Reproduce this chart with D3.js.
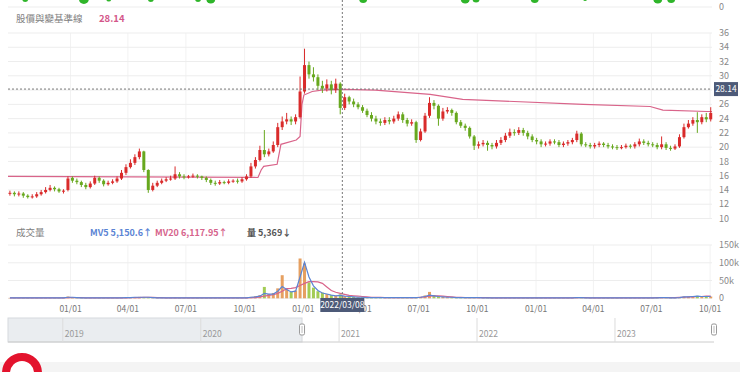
<!DOCTYPE html>
<html><head><meta charset="utf-8">
<script src="https://cdn.jsdelivr.net/npm/d3@7"></script>
<style>
html,body{margin:0;padding:0;background:#fff;}
svg{display:block;font-family:"Noto Sans CJK TC","Noto Sans",Arial,sans-serif;}
</style></head><body>
<svg id="c" width="740" height="372"></svg>
<script>
// ---------- DATA (weekly) ----------
const weeks = d3.timeMonday.range(new Date(2020, 8, 28), new Date(2023, 9, 3));
const priceClose = [13.6,13.4,13.5,13.2,13.0,13.1,13.4,13.7,14.0,14.3,
14.1,13.8,13.9,15.6,15.3,15.1,14.7,14.4,14.9,15.7,
15.3,14.8,15.0,15.2,15.6,16.4,17.2,17.8,18.6,19.4,
16.8,14.0,14.6,15.0,15.3,15.5,15.6,16.2,15.9,15.8,
15.9,16.0,15.9,15.7,15.4,15.0,14.9,15.1,15.0,15.2,
15.3,15.2,15.5,15.9,17.3,18.2,19.6,19.0,19.4,20.3,
22.8,23.6,23.9,23.6,24.2,27.8,31.5,30.2,29.8,28.6,
28.2,28.8,28.0,28.9,25.5,27.0,26.4,26.0,25.6,25.1,
24.5,24.0,23.6,23.4,23.8,23.6,24.0,24.6,23.8,23.3,
23.5,21.0,22.2,24.4,26.2,25.8,24.0,25.0,25.2,24.8,
23.5,23.0,22.7,21.5,20.2,20.4,20.6,20.3,20.1,20.6,
21.0,21.6,22.1,22.0,22.4,22.0,21.5,21.0,20.8,20.4,
20.5,20.8,20.7,20.3,20.5,20.7,21.0,21.9,20.4,20.3,
20.1,20.3,20.5,20.3,20.1,20.0,19.9,20.0,20.2,20.1,
20.4,20.8,20.6,20.4,20.3,20.0,20.4,19.9,19.8,20.1,
21.4,22.8,23.3,23.8,23.5,24.2,23.9,24.8];
const priceOpen = [13.5,13.6,13.4,13.5,13.2,13.0,13.1,13.4,13.7,14.0,
14.3,14.1,13.8,14.0,15.7,15.3,15.1,14.7,14.4,14.9,
15.7,15.3,14.8,15.0,15.2,15.6,16.4,17.2,17.8,18.6,
19.4,16.8,14.0,14.6,15.0,15.3,15.5,15.6,16.2,15.9,
15.8,15.9,16.0,15.9,15.7,15.4,15.0,14.9,15.1,15.0,
15.2,15.3,15.2,15.5,15.9,17.3,18.2,19.6,19.0,19.4,
20.3,22.8,23.6,23.9,23.6,24.2,27.8,31.5,30.2,29.8,
28.6,28.2,28.8,28.0,28.9,25.5,27.0,26.4,26.0,25.6,
25.1,24.5,24.0,23.6,23.4,23.8,23.6,24.0,24.6,23.8,
23.3,23.5,21.0,22.2,24.4,26.2,25.8,24.0,25.0,25.2,
24.8,23.5,23.0,22.7,21.5,20.2,20.4,20.6,20.3,20.1,
20.6,21.0,21.6,22.1,22.0,22.4,22.0,21.5,21.0,20.8,
20.4,20.5,20.8,20.7,20.3,20.5,20.7,21.0,21.9,20.4,
20.3,20.1,20.3,20.5,20.3,20.1,20.0,19.9,20.0,20.2,
20.1,20.4,20.8,20.6,20.4,20.3,20.0,20.4,19.9,19.8,
20.1,21.4,22.8,23.3,23.8,23.5,24.2,23.9];
const priceHigh = [13.9,13.8,13.8,13.7,13.4,13.4,13.7,14.0,14.4,14.7,
14.5,14.3,14.1,15.9,15.9,15.6,15.3,15.0,15.2,16.0,
15.9,15.5,15.3,15.5,15.9,16.8,17.6,18.3,19.0,19.8,
19.5,16.9,15.0,15.3,15.6,15.8,16.0,17.3,16.5,16.2,
16.1,16.3,16.2,16.0,15.9,15.6,15.3,15.4,15.3,15.5,
15.5,15.6,15.8,16.2,17.8,18.6,20.2,22.4,19.8,20.8,
23.4,24.3,24.8,24.3,24.6,29.9,33.8,32.0,31.2,30.2,
29.3,29.5,29.3,29.6,29.1,27.5,27.2,26.8,26.3,25.9,
25.4,24.9,24.4,24.0,24.2,24.2,24.4,25.0,24.9,24.1,
23.9,23.7,22.6,24.8,27.0,26.6,26.0,25.5,25.6,25.4,
25.0,23.8,23.3,22.9,21.7,20.8,21.0,20.9,20.6,21.0,
21.4,22.0,22.6,22.5,22.8,22.7,22.3,21.8,21.3,21.1,
20.8,21.1,21.1,21.0,20.8,21.0,21.3,22.3,22.1,20.7,
20.6,20.6,20.8,20.7,20.6,20.4,20.3,20.3,20.5,20.4,
20.7,21.2,21.1,20.9,20.7,20.6,21.5,20.7,20.2,20.4,
21.8,23.3,23.8,24.2,24.9,24.6,24.8,25.6];
const priceLow = [13.2,13.1,13.1,12.9,12.8,12.8,12.9,13.2,13.5,13.8,
13.8,13.6,13.5,13.8,15.0,14.8,14.4,14.1,14.2,14.7,
15.0,14.5,14.6,14.8,15.0,15.4,16.1,17.0,17.5,18.3,
16.5,13.6,13.8,14.4,14.8,15.1,15.3,15.4,15.6,15.5,
15.6,15.7,15.6,15.4,15.1,14.7,14.6,14.7,14.8,14.8,
15.0,14.9,15.0,15.3,15.7,17.0,18.0,18.6,18.7,19.2,
20.0,22.4,23.2,23.1,23.2,24.0,27.5,29.6,29.2,28.0,
27.6,27.8,27.4,27.6,24.6,25.2,26.0,25.6,25.3,24.8,
24.2,23.6,23.2,23.0,23.1,23.2,23.3,23.7,23.4,22.9,
23.0,20.6,20.8,22.0,24.1,25.3,23.0,23.7,24.7,24.4,
23.2,22.7,22.3,21.2,19.6,19.8,20.1,19.5,19.7,19.8,
20.3,20.7,21.3,21.6,21.7,21.6,21.1,20.7,20.4,20.0,
20.1,20.2,20.4,20.0,20.0,20.2,20.4,20.7,20.1,20.0,
19.8,19.8,20.0,20.0,19.8,19.7,19.6,19.7,19.8,19.8,
19.8,20.1,20.3,20.1,20.0,19.7,19.7,19.6,19.5,19.6,
19.9,21.2,22.6,23.0,22.0,23.2,23.5,23.6];
// baseline (pink line) breakpoints
const baseDates = ["2020-09-25","2021-10-22","2021-10-27","2021-10-31","2021-11-21","2021-11-27","2021-12-21","2021-12-27","2021-12-30","2022-01-02","2022-01-15","2022-01-30","2022-03-07","2022-04-24","2022-07-19","2022-09-08","2023-03-16","2023-06-29","2023-07-19","2023-09-26","2023-10-04"];
const baseValues = [15.9,15.75,16.8,17.3,17.6,20.4,21.0,21.5,26.0,27.3,27.8,28.0,28.1,28.0,27.4,26.7,26.0,25.7,25.2,25.0,25.0];
// volume (thousand lots)
const volume = [1,1,1,1,1,1,1,1,1,1, 1,1,2,5,3,2,1,1,1,1, 1,1,1,1,1,2,2,3,3,4, 3,3,2,1,1,1,1,2,1,1,
1,1,1,1,1,1,1,1,1,1, 1,1,1,2,4,6,9,32,12,15, 28,65,25,18,22,112,98,45,30,20, 16,12,9,7,11,6,5,4,3,3,
2,2,2,2,2,2,2,2,2,2, 2,3,4,8,18,9,6,4,3,3, 2,2,2,2,2,2,1,1,1,1, 1,1,1,1,1,1,1,1,1,1,
1,1,1,1,1,1,1,3,2,1, 1,1,1,1,1,1,1,1,1,1, 1,1,1,1,1,1,3,2,1,1, 3,5,4,6,7,5,4,5];
const mv5 = [1,1,1,1,1,1,1,1,1,1, 1,1,1,3,3,2,1,1,1,1, 1,1,1,1,1,1,2,2,3,3, 3,3,2,1,1,1,1,1,1,1,
1,1,1,1,1,1,1,1,1,1, 1,1,1,1,3,4,6,14,12,12, 20,33,25,18,20,60,101,60,35,22, 15,12,9,7,8,6,5,4,3,3,
2,2,2,2,2,2,2,2,2,2, 2,2,3,5,9,7,5,4,3,3, 2,2,2,2,2,2,1,1,1,1, 1,1,1,1,1,1,1,1,1,1,
1,1,1,1,1,1,1,2,2,1, 1,1,1,1,1,1,1,1,1,1, 1,1,1,1,1,1,2,2,1,1, 2,4,4,5,6,5,5,5];
const mv20 = [1,1,1,1,1,1,1,1,1,1, 1,1,1,2,2,2,2,1,1,1, 1,1,1,1,1,1,1,2,2,2, 3,3,3,2,2,1,1,1,1,1,
1,1,1,1,1,1,1,1,1,1, 1,1,1,1,2,2,4,6,8,10, 14,20,27,28,30,36,42,47,47,46, 42,32,22,17,14,11,8,7,6,5,
4,3,3,3,2,2,2,2,2,2, 2,2,3,4,6,7,7,6,5,4, 3,3,2,2,2,2,2,2,1,1, 1,1,1,1,1,1,1,1,1,1,
1,1,1,1,1,1,1,2,2,2, 1,1,1,1,1,1,1,1,1,1, 1,1,1,1,1,2,2,2,2,2, 3,3,4,4,5,5,6,6];
// signals on the panel above (cropped)
const signalDates = ["2020-10-22","2021-01-22","2021-03-02","2021-05-07","2021-07-20","2021-08-09","2022-04-05","2022-09-12","2022-09-29","2022-12-30","2023-03-19","2023-07-11","2023-08-01"];
const signalSize = [3,5,2.5,3,3,4.5,4,4.5,3.5,4,2,4.5,4];
const priceTicks = [10,12,14,16,18,20,22,24,26,28,30,32,34,36];
const volTicks = [0,50,100,150];
const volTickLabels = ["0","50k","100k","150k"];
const navYears = ["2019","2020","2021","2022","2023"];
const legendName = "股價與變基準線";
const legendValue = "28.14";
const crossDate = "2022/03/08";
const crossPrice = 28.14;
const volLegend = [["MV5 5,150.6↑","#5b84d4"],["MV20 6,117.95↑","#d6648c"],["量 5,369↓","#555"]];

// ---------- CHART ----------
const svg = d3.select("#c");
const parse = d3.timeParse("%Y-%m-%d");
const x = d3.scaleTime().domain([new Date(2020,8,25), new Date(2023,9,4)]).range([8,712]);
const y = d3.scaleLinear().domain([10,36]).range([218.5,33]);
const yv = d3.scaleLinear().domain([0,150]).range([298.3,245]);
const RED = "#d92b2b", GREEN = "#67a81e", PINK = "#d9648a", BLUE = "#5b84d4";
const gridC = "#ededed";

// top cropped panel baseline
svg.append("line").attr("x1",8).attr("x2",712).attr("y1",7).attr("y2",7).attr("stroke",gridC);
svg.append("text").attr("x",719).attr("y",7).attr("dy","0.35em").attr("font-size",9).attr("fill","#888").text("0");
svg.selectAll(".sig").data(signalDates).join("circle")
  .attr("cx",d=>x(parse(d))).attr("cy",-1).attr("r",(d,i)=>signalSize[i]).attr("fill","#2fb52a");

// legend
svg.append("text").attr("x",16).attr("y",19).attr("dy","0.35em").attr("font-size",9.5).attr("fill","#808080").text(legendName);
svg.append("text").attr("x",99).attr("y",19).attr("dy","0.35em").attr("font-size",9.5).attr("fill","#d4578a").attr("font-weight","bold").text(legendValue);

// month ticks
const ticks = x.ticks(d3.timeMonth.every(3)).filter(d=>x(d)>30);
svg.append("g").selectAll("line").data(ticks).join("line")
  .attr("x1",d=>x(d)).attr("x2",d=>x(d)).attr("y1",33).attr("y2",218.5).attr("stroke","#f2f2f2");
svg.append("g").selectAll("line").data(ticks).join("line")
  .attr("x1",d=>x(d)).attr("x2",d=>x(d)).attr("y1",245).attr("y2",298).attr("stroke","#f2f2f2");
svg.append("g").selectAll("line").data(priceTicks).join("line")
  .attr("x1",8).attr("x2",712).attr("y1",d=>y(d)).attr("y2",d=>y(d)).attr("stroke",gridC);
svg.append("g").selectAll("text").data(priceTicks.filter(t=>Math.abs(y(t)-y(crossPrice))>7)).join("text")
  .attr("x",719).attr("y",d=>y(d)).attr("dy","0.35em").attr("font-size",9).attr("fill","#888").text(d=>d);

// baseline
const baseLine = d3.line().x(d=>x(parse(d[0]))).y(d=>y(d[1]));
svg.append("path").attr("d",baseLine(baseDates.map((d,i)=>[d,baseValues[i]])))
  .attr("fill","none").attr("stroke",PINK).attr("stroke-width",1.2);

// candles
const cw = 3;
const cg = svg.append("g");
weeks.forEach((w,i)=>{
  const o=priceOpen[i], c=priceClose[i], h=priceHigh[i], l=priceLow[i];
  const col = c>=o ? RED : GREEN;
  const cx = x(w);
  cg.append("line").attr("x1",cx).attr("x2",cx).attr("y1",y(h)).attr("y2",y(l)).attr("stroke",col).attr("stroke-width",1);
  const top=y(Math.max(o,c)), bot=y(Math.min(o,c));
  cg.append("rect").attr("x",cx-cw/2).attr("y",top).attr("width",cw).attr("height",Math.max(1,bot-top)).attr("fill",col);
});

// volume legend
svg.append("text").attr("x",16).attr("y",233).attr("dy","0.35em").attr("font-size",9.5).attr("fill","#808080").text("成交量");
const lxs=[90,155,247];
volLegend.forEach((d,i)=>{
  svg.append("text").attr("x",lxs[i]).attr("y",233).attr("dy","0.35em").attr("font-size",9).attr("font-weight","bold").attr("fill",d[1]).text(d[0]);
});
svg.append("g").selectAll("line").data(volTicks).join("line")
  .attr("x1",8).attr("x2",712).attr("y1",d=>yv(d)).attr("y2",d=>yv(d)).attr("stroke",gridC);
svg.append("g").selectAll("text").data(volTicks).join("text")
  .attr("x",719).attr("y",d=>yv(d)).attr("dy","0.35em").attr("font-size",9).attr("fill","#888").text((d,i)=>volTickLabels[i]);
svg.append("g").selectAll("rect").data(weeks).join("rect")
  .attr("x",d=>x(d)-1.5).attr("width",3)
  .attr("y",(d,i)=>yv(volume[i])).attr("height",(d,i)=>yv(0)-yv(volume[i]))
  .attr("fill",(d,i)=>priceClose[i]>=priceOpen[i]?"#e0883a":"#8cbf2a").attr("opacity",0.8);
const vline = arr => d3.line().x((d,i)=>x(weeks[i])).y(d=>yv(d))(arr);
svg.append("path").attr("d",vline(mv20)).attr("fill","none").attr("stroke",PINK).attr("stroke-width",1.2);
svg.append("path").attr("d",vline(mv5)).attr("fill","none").attr("stroke",BLUE).attr("stroke-width",1.2);

// x axis labels
const fmt = d3.timeFormat("%m/%d");
svg.append("g").selectAll("text").data(ticks).join("text")
  .attr("x",d=>x(d)).attr("y",309).attr("dy","0.35em").attr("text-anchor","middle")
  .attr("font-size",8.5).attr("fill","#777").text(d=>fmt(d));

// crosshair
const cxp = x(d3.timeParse("%Y/%m/%d")(crossDate)) - 3;
svg.append("line").attr("x1",cxp).attr("x2",cxp).attr("y1",0).attr("y2",298).attr("stroke","#777").attr("stroke-dasharray","2,2");
svg.append("line").attr("x1",8).attr("x2",712).attr("y1",y(crossPrice)).attr("y2",y(crossPrice)).attr("stroke","#777").attr("stroke-dasharray","2,2");
svg.append("rect").attr("x",714).attr("y",y(crossPrice)-7).attr("width",24).attr("height",14).attr("fill","#4d5a78");
svg.append("text").attr("x",726).attr("y",y(crossPrice)).attr("dy","0.35em").attr("text-anchor","middle").attr("font-size",8.5).attr("fill","#fff").text(legendValue);
svg.append("rect").attr("x",cxp-22).attr("y",298).attr("width",44).attr("height",14).attr("fill","#4d5a78");
svg.append("text").attr("x",cxp).attr("y",305).attr("dy","0.35em").attr("text-anchor","middle").attr("font-size",8.5).attr("fill","#fff").text(crossDate);

// navigator
const nx = d3.scaleTime().domain([new Date(2018,7,9), new Date(2023,8,20)]).range([8,714]);
const selStart = x.domain()[0];
svg.append("rect").attr("x",8).attr("y",318).attr("width",nx(selStart)-8).attr("height",24).attr("fill","#eaedf0").attr("stroke","#d6d9dd");
svg.append("line").attr("x1",8).attr("x2",714).attr("y1",342).attr("y2",342).attr("stroke","#ccc");
navYears.forEach(yr=>{
  const xx = nx(new Date(+yr,0,1));
  svg.append("line").attr("x1",xx).attr("x2",xx).attr("y1",318).attr("y2",342).attr("stroke","#dcdcdc");
  svg.append("text").attr("x",xx+2).attr("y",337).attr("font-size",8.5).attr("fill","#999").text(yr);
});
[nx(selStart), 714].forEach(hx=>{
  svg.append("rect").attr("x",hx-2.5).attr("y",324).attr("width",5).attr("height",11).attr("rx",1.5).attr("fill","#fff").attr("stroke","#999");
  svg.append("line").attr("x1",hx).attr("x2",hx).attr("y1",326).attr("y2",333).attr("stroke","#bbb");
});

// bottom band + logo ring
svg.append("rect").attr("x",0).attr("y",362).attr("width",740).attr("height",10).attr("fill","#f4f4f4");
svg.append("circle").attr("cx",22).attr("cy",373).attr("r",16).attr("fill","#fff").attr("stroke","#e3132d").attr("stroke-width",8);
</script>
</body></html>
